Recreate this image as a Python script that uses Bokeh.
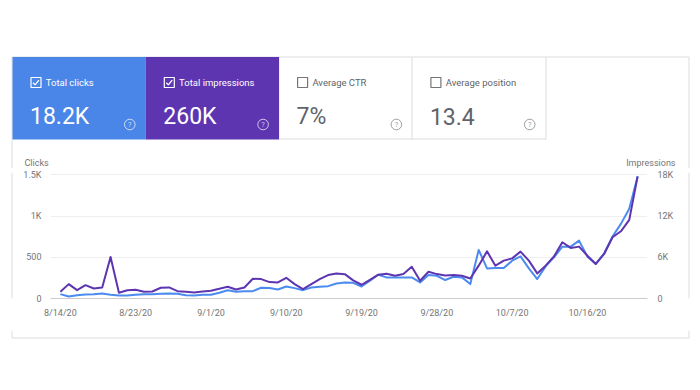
import pandas as pd
from bokeh.plotting import figure
from bokeh.layouts import column, row
from bokeh.models import Range1d, LinearAxis, FixedTicker, DatetimeTickFormatter
from bokeh.core.properties import value
from bokeh.embed import file_html
from bokeh.resources import INLINE

# ---------------- data ----------------
start_date = "2020-08-14"
clicks = [53, 24, 40, 49, 53, 61, 45, 36, 36, 45,
          53, 53, 57, 61, 57, 40, 36, 45, 45, 69,
          101, 81, 89, 89, 130, 126, 109, 146, 126, 101,
          134, 142, 150, 182, 195, 190, 146, 215, 288, 256,
          256, 256, 256, 195, 284, 276, 224, 264, 256, 175,
          589, 365, 369, 369, 459, 511, 365, 236, 390, 499,
          629, 629, 702, 507, 419, 548, 751, 905, 1088, 1481]
impressions = [970, 2090, 1210, 1940, 1460, 1610, 6040, 840, 1210, 1260,
               970, 1020, 1560, 1610, 1070, 970, 880, 1020, 1120, 1420,
               1700, 1310, 1610, 2870, 2820, 2390, 2340, 3010, 2090, 1370,
               2090, 2820, 3410, 3650, 3540, 2640, 2000, 2720, 3460, 3600,
               3310, 3550, 4620, 2580, 3900, 3550, 3340, 3410, 3310, 2920,
               4780, 6860, 4780, 5510, 5840, 6820, 5510, 3650, 4780, 6120,
               8180, 7360, 7550, 6230, 5030, 6480, 8920, 9780, 11450, 17770]
tick_dates = ["2020-08-14", "2020-08-23", "2020-09-01", "2020-09-10",
              "2020-09-19", "2020-09-28", "2020-10-07", "2020-10-16"]
click_ticks = [0, 500, 1000, 1500]
click_tick_labels = ["0", "500", "1K", "1.5K"]
imp_ticks = [0, 6000, 12000, 18000]
imp_tick_labels = ["0", "6K", "12K", "18K"]
metric_names = ["Total clicks", "Total impressions", "Average CTR", "Average position"]
metric_values = ["18.2K", "260K", "7%", "13.4"]
metric_checked = [True, True, False, False]
left_title = "Clicks"
right_title = "Impressions"

BLUE = "#4a86e8"
PURPLE = "#5e35b1"
LINE_BLUE = "#4b8bf0"
GREY_TEXT = "#5f6368"
AXIS_TEXT = "#757575"
BORDER = "#dadce0"
FONT = "Roboto"

PAGE_W = 696
CARD_L, CARD_R = 11.5, 688.5
CARD_T, CARD_B = 56.5, 337.5


def canvas_fig(x0, x1, y0, y1):
    """A figure whose frame is its whole canvas, in page-pixel coordinates."""
    f = figure(width=int(x1 - x0), height=int(y1 - y0),
               x_range=Range1d(x0, x1), y_range=Range1d(y1, y0),
               x_axis_location=None, y_axis_location=None,
               output_backend="svg", toolbar_location=None, min_border=0,
               outline_line_color=None, background_fill_color="white",
               border_fill_color="white")
    f.grid.visible = False
    f.title.visible = False
    return f


# ---------------- top: metric tiles ----------------
T_H = 168
top = canvas_fig(0, PAGE_W, 0, T_H)
top.segment(x0=[CARD_L, CARD_L, CARD_R], y0=[CARD_T, CARD_T, CARD_T],
            x1=[CARD_R, CARD_L, CARD_R], y1=[CARD_T, T_H, T_H],
            line_color=BORDER, line_width=1)

tile_w = 133.3
tile_x0 = 12
tile_t, tile_b = 57, 139
fills = [BLUE, PURPLE, None, None]
for i in range(4):
    l = tile_x0 + i * tile_w
    if fills[i]:
        top.quad(left=[l], right=[l + tile_w], top=[tile_t - 0.5], bottom=[tile_b],
                 fill_color=fills[i], line_color=None)
# separators of the white tiles
top.segment(x0=[tile_x0 + 2 * tile_w, 411.5, 545.5], y0=[138.5, tile_t, tile_t],
            x1=[545.5, 411.5, 545.5], y1=[138.5, tile_b, tile_b],
            line_color=BORDER, line_width=1)

for i, (name, val, chk) in enumerate(zip(metric_names, metric_values, metric_checked)):
    off = i * tile_w
    col = "white" if fills[i] else GREY_TEXT
    box_col = "white" if fills[i] else AXIS_TEXT
    top.quad(left=[30.5 + off], right=[40.5 + off], top=[77], bottom=[87],
             fill_color=None, line_color=box_col, line_width=1.2)
    if chk:
        top.line(x=[32.5 + off, 34.6 + off, 38.4 + off], y=[82.2, 84.4, 79.6],
                 line_color="white", line_width=1.3)
    top.text(x=[45.3 + off], y=[82], text=[name], text_font=value(FONT),
             text_font_size=value("9.5px"), text_color=col,
             text_baseline="middle", text_align="left")
    top.text(x=[29.5 + off], y=[116], text=[val], text_font=value(FONT),
             text_font_size=value("23px"), text_color=col,
             text_baseline="alphabetic", text_align="left")
    icol = "white" if fills[i] else "#9e9e9e"
    ialpha = 0.7 if fills[i] else 1.0
    top.circle(x=[129.3 + off], y=[124], radius=5.3, fill_color=None,
               line_color=icol, line_alpha=ialpha, line_width=1)
    top.text(x=[129.3 + off], y=[124.4], text=["?"], text_font=value(FONT),
             text_font_size=value("7.5px"), text_color=icol, text_alpha=ialpha,
             text_baseline="middle", text_align="center")

top.text(x=[24], y=[162.5], text=[left_title], text_font=value(FONT),
         text_font_size=value("9px"), text_color=AXIS_TEXT,
         text_baseline="middle", text_align="left")
top.text(x=[675], y=[162.5], text=[right_title], text_font=value(FONT),
         text_font_size=value("9px"), text_color=AXIS_TEXT,
         text_baseline="middle", text_align="right")

# ---------------- middle: chart ----------------
M_T, M_B = T_H, 330
M_H = M_B - M_T
STRIP = 20
left_strip = canvas_fig(0, STRIP, M_T, M_B)
left_strip.segment(x0=[CARD_L], y0=[M_T], x1=[CARD_L], y1=[M_B], line_color=BORDER, line_width=1)
right_strip = canvas_fig(PAGE_W - STRIP, PAGE_W, M_T, M_B)
right_strip.segment(x0=[CARD_R], y0=[M_T], x1=[CARD_R], y1=[M_B], line_color=BORDER, line_width=1)

dates = pd.date_range(start_date, periods=len(clicks), freq="D")
pad = pd.Timedelta(days=1.18)
FR_L, FR_R, FR_T, FR_B = 49, 652, 172, 298
C_W = PAGE_W - 2 * STRIP
p = figure(width=C_W, height=M_H, x_axis_type="datetime",
           x_range=Range1d(dates[0] - pad, dates[-1] + pad),
           y_range=Range1d(0, 1528),
           output_backend="svg", toolbar_location=None,
           min_border_left=FR_L - STRIP, min_border_right=(PAGE_W - STRIP) - FR_R,
           min_border_top=FR_T - M_T, min_border_bottom=M_B - FR_B,
           outline_line_color=None, background_fill_color="white",
           border_fill_color="white")
p.title.visible = False
p.extra_y_ranges = {"imp": Range1d(0, 1528 * 12)}

p.yaxis.ticker = FixedTicker(ticks=click_ticks)
p.yaxis.major_label_overrides = dict(zip(click_ticks, click_tick_labels))
p.yaxis.axis_line_color = None
p.yaxis.major_tick_line_color = None
p.yaxis.minor_tick_line_color = None
p.yaxis.major_label_standoff = 3
p.yaxis.major_label_text_font = FONT
p.yaxis.major_label_text_font_size = "9px"
p.yaxis.major_label_text_color = AXIS_TEXT

ra = LinearAxis(y_range_name="imp", ticker=FixedTicker(ticks=imp_ticks))
ra.major_label_overrides = dict(zip(imp_ticks, imp_tick_labels))
ra.axis_line_color = None
ra.major_tick_line_color = None
ra.minor_tick_line_color = None
ra.major_label_standoff = 4
ra.major_label_text_font = FONT
ra.major_label_text_font_size = "9px"
ra.major_label_text_color = AXIS_TEXT
p.add_layout(ra, "right")

tick_ms = [pd.Timestamp(t).value // 10**6 for t in tick_dates]
p.xaxis.ticker = FixedTicker(ticks=tick_ms)
fmt = "%-m/%-d/%y"
p.xaxis.formatter = DatetimeTickFormatter(days=fmt, months=fmt, years=fmt, hours=fmt,
                                          hourmin=fmt, minutes=fmt, seconds=fmt,
                                          milliseconds=fmt, minsec=fmt, microseconds=fmt)
p.xaxis.axis_line_color = "#cccccc"
p.xaxis.major_tick_line_color = None
p.xaxis.minor_tick_line_color = None
p.xaxis.major_label_standoff = 3
p.xaxis.major_label_text_font = FONT
p.xaxis.major_label_text_font_size = "9px"
p.xaxis.major_label_text_color = AXIS_TEXT

p.xgrid.grid_line_color = None
p.ygrid.grid_line_color = "#eeeeee"

p.line(dates, clicks, line_color=LINE_BLUE, line_width=2, line_join="round")
p.line(dates, impressions, y_range_name="imp", line_color=PURPLE, line_width=2,
       line_join="round")

# ---------------- bottom: card edge ----------------
B_H = 20
bottom = canvas_fig(0, PAGE_W, M_B, M_B + B_H)
bottom.segment(x0=[CARD_L, CARD_R, CARD_L], y0=[M_B, M_B, CARD_B],
               x1=[CARD_L, CARD_R, CARD_R], y1=[CARD_B, CARD_B, CARD_B],
               line_color=BORDER, line_width=1)

layout = column(top, row(left_strip, p, right_strip, spacing=0), bottom, spacing=0)
open("out.html", "w").write(file_html(layout, INLINE))
